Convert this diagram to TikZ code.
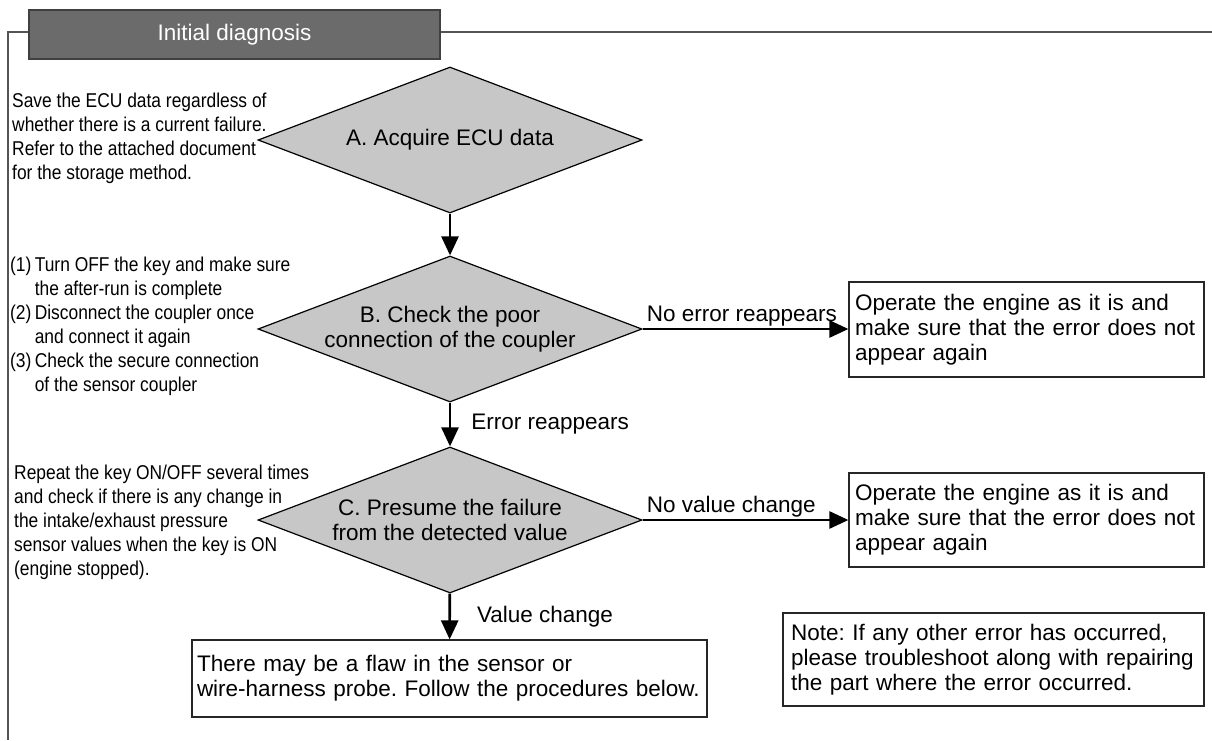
\documentclass[tikz,border=0pt]{standalone}
\usepackage{fontspec}
\setmainfont{Liberation Sans}
\newfontfamily\narrowfont[FakeStretch=0.87]{Liberation Sans}
\usetikzlibrary{shapes.geometric,arrows.meta}

\definecolor{diafill}{gray}{0.78}
\definecolor{titlefill}{gray}{0.42}
\definecolor{titleedge}{gray}{0.25}
\definecolor{framecol}{gray}{0.33}

\frenchspacing
\hyphenpenalty=10000
\exhyphenpenalty=10000

\begin{document}
\begin{tikzpicture}[x=1pt,y=-1pt,
  bigtext/.style={font=\fontsize{22.5}{25}\selectfont},
  decision/.style={diamond, draw=black, line width=1.2pt, fill=diafill,
    minimum width=384pt, minimum height=146pt, inner sep=0pt,
    shape aspect=2.63, align=center, bigtext},
  outcome/.style={draw=black!85, line width=1.2pt, fill=white, align=left,
    inner ysep=0pt, bigtext},
  sidenote/.style={align=left, anchor=west, inner sep=0pt,
    font=\narrowfont\fontsize{20}{24}\selectfont},
  flow/.style={line width=2.6pt, -{Triangle[length=19pt,width=17pt]}},
  lbl/.style={bigtext, inner sep=0pt},
]
\useasboundingbox (0,0) rectangle (1212,740);

% section frame with its title tab
\draw[framecol, line width=1.6pt] (8,740) -- (8,32) -- (1212,32);
\node[draw=titleedge, line width=1.2pt, fill=titlefill, text=white,
  minimum width=411pt, minimum height=49pt, inner sep=0pt, bigtext]
  (title) at (234.5,34.5) {Initial diagnosis};

% decisions
\node[decision] (A) at (450,140) {A. Acquire ECU data};
\node[decision] (B) at (450,329) {B. Check the poor\\connection of the coupler};
\node[decision] (C) at (450,520) {C. Presume the failure\\from the detected value};

% outcome boxes
\node[outcome, minimum width=355pt, minimum height=95pt, text width=343pt,
  inner xsep=6pt] (r1) at (1026.5,329.5)
  {Operate the engine as it is and\\make sure that the error does not\\appear again};
\node[outcome, minimum width=355pt, minimum height=94pt, text width=343pt,
  inner xsep=6pt] (r2) at (1026.5,520)
  {Operate the engine as it is and\\make sure that the error does not\\appear again};
\node[outcome, minimum width=515pt, minimum height=77pt, text width=505pt,
  inner xsep=5pt] (probe) at (449.5,678.5)
  {There may be a flaw in the sensor or\\wire-harness probe. Follow the procedures below.};
\node[outcome, minimum width=421pt, minimum height=93pt, text width=405pt,
  inner xsep=8pt] (note) at (993.5,659.5)
  {Note: If any other error has occurred,\\please troubleshoot along with repairing\\the part where the error occurred.};

% instructions beside each decision
\node[sidenote] (nA) at (12,138)
  {Save the ECU data regardless of\\whether there is a current failure.\\Refer to the attached document\\for the storage method.};
\node[sidenote] (nB) at (10,327)
  {\begin{tabular}{@{}l@{\,}l@{}}
   (1) & Turn OFF the key and make sure\\
       & the after-run is complete\\
   (2) & Disconnect the coupler once\\
       & and connect it again\\
   (3) & Check the secure connection\\
       & of the sensor coupler
   \end{tabular}};
\node[sidenote] (nC) at (14,522)
  {Repeat the key ON/OFF several times\\and check if there is any change in\\the intake/exhaust pressure\\sensor values when the key is ON\\(engine stopped).};

% connectors
\draw[flow] (A) -- (B);
\draw[flow] (B) -- (C) node[lbl, midway, anchor=west, xshift=20pt] (lErr) {Error reappears};
\draw[flow] (C) -- (probe) node[lbl, midway, anchor=west, xshift=26pt] (lVal) {Value change};
\draw[flow] (B.east) -- (B.east -| r1.west)
  node[lbl, pos=0, anchor=base west, xshift=3pt, yshift=8pt] (lNoErr) {No error reappears};
\draw[flow] (C.east) -- (C.east -| r2.west)
  node[lbl, pos=0, anchor=base west, xshift=3pt, yshift=8pt] (lNoVal) {No value change};
\end{tikzpicture}
\end{document}
